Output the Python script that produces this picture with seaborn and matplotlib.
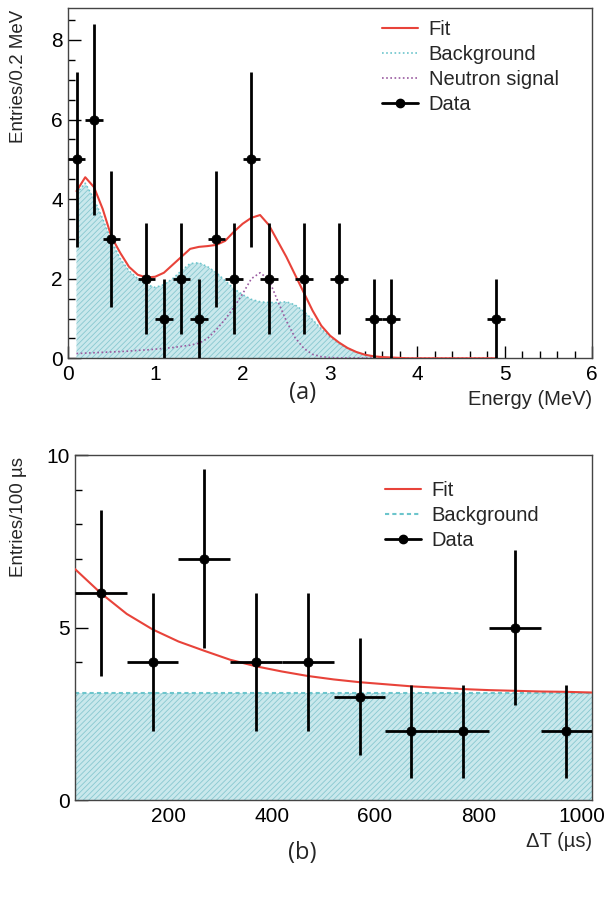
import numpy as np
import pandas as pd
import matplotlib
matplotlib.use('Agg')
import matplotlib.pyplot as plt
import matplotlib.ticker as mtick
import seaborn as sns

# --- panel (a): energy spectrum ---
e_x = [0.1, 0.3, 0.5, 0.9, 1.1, 1.3, 1.5, 1.7, 1.9, 2.1, 2.3, 2.7, 3.1, 3.5, 3.7, 4.9]
e_n = [5, 6, 3, 2, 1, 2, 1, 3, 2, 5, 2, 2, 2, 1, 1, 1]
e_lo = [2.8, 3.6, 1.3, 0.6, 0.0, 0.6, 0.0, 1.3, 0.6, 2.8, 0.6, 0.6, 0.6, 0.0, 0.0, 0.0]
e_hi = [7.2, 8.4, 4.7, 3.4, 2.0, 3.4, 2.0, 4.7, 3.4, 7.2, 3.4, 3.4, 3.4, 2.0, 2.0, 2.0]

e_grid = np.round(np.arange(0.1, 4.95, 0.1), 1)
e_bg = [4.15, 4.4, 4.0, 3.5, 2.95, 2.5, 2.2, 2.0, 1.85, 1.78,
        1.85, 2.0, 2.2, 2.38, 2.4, 2.3, 2.15, 1.95, 1.75, 1.6,
        1.48, 1.42, 1.4, 1.4, 1.42, 1.34, 1.18, 0.97, 0.74, 0.53,
        0.38, 0.25, 0.15, 0.08, 0.04, 0.02, 0.01, 0.01, 0.0, 0.0,
        0.0, 0.0, 0.0, 0.0, 0.0, 0.0, 0.0, 0.0, 0.0]
e_sig = [0.12, 0.13, 0.14, 0.15, 0.16, 0.17, 0.18, 0.2, 0.21, 0.23,
         0.25, 0.27, 0.3, 0.33, 0.38, 0.5, 0.72, 0.98, 1.28, 1.62,
         2.0, 2.15, 1.98, 1.45, 0.94, 0.52, 0.25, 0.1, 0.04, 0.02,
         0.01, 0.01, 0.01, 0.01, 0.01, 0.0, 0.0, 0.0, 0.0, 0.0,
         0.0, 0.0, 0.0, 0.0, 0.0, 0.0, 0.0, 0.0, 0.0]
e_fit = [4.2, 4.55, 4.3, 3.75, 3.05, 2.65, 2.3, 2.1, 2.03, 2.05,
         2.15, 2.35, 2.55, 2.75, 2.8, 2.82, 2.85, 2.95, 3.18, 3.38,
         3.53, 3.6, 3.35, 2.95, 2.55, 2.1, 1.65, 1.2, 0.82, 0.57,
         0.4, 0.26, 0.16, 0.09, 0.05, 0.03, 0.02, 0.01, 0.0, 0.0,
         0.0, 0.0, 0.0, 0.0, 0.0, 0.0, 0.0, 0.0, 0.0]

# --- panel (b): time difference ---
t_x = [70, 170, 270, 370, 470, 570, 670, 770, 870, 970]
t_n = [6, 4, 7, 4, 4, 3, 2, 2, 5, 2]
t_lo = [3.6, 2.0, 4.4, 2.0, 2.0, 1.3, 0.65, 0.65, 2.75, 0.65]
t_hi = [8.4, 6.0, 9.6, 6.0, 6.0, 4.7, 3.35, 3.35, 7.25, 3.35]

t_grid = np.arange(20, 1021, 50)
t_fit = [6.7, 6.0, 5.4, 4.95, 4.6, 4.33, 4.07, 3.88, 3.73, 3.6,
         3.5, 3.42, 3.36, 3.3, 3.26, 3.22, 3.19, 3.17, 3.15, 3.14, 3.12]
t_bg = 3.1

sns.set_style('ticks')
plt.rcParams['font.family'] = ['Liberation Sans', 'DejaVu Sans']
plt.rcParams['hatch.linewidth'] = 0.6
plt.rcParams['axes.linewidth'] = 1.0

red = '#e8433a'
cyan_line = '#6cc5cc'
cyan_fill = '#c9e8ec'
cyan_hatch = '#88c8d0'
purple = '#9a5aa0'

fig = plt.figure(figsize=(6.05, 8.98), dpi=100)
ax1 = fig.add_axes([0.112, 0.601, 0.867, 0.390])
ax2 = fig.add_axes([0.124, 0.109, 0.855, 0.384])


def style_axis(ax):
    for s in ax.spines.values():
        s.set_color('#444444')
        s.set_visible(True)
    ax.tick_params(which='both', direction='in', colors='black', labelsize=15,
                   top=False, right=False)
    ax.tick_params(axis='x', which='both', pad=5)
    ax.tick_params(which='major', length=9, width=1)
    ax.tick_params(which='minor', length=5, width=1)


def draw_data(ax, x, n, lo, hi, xerr):
    yerr = [np.array(n) - np.array(lo), np.array(hi) - np.array(n)]
    ax.errorbar(x, n, xerr=xerr, yerr=yerr, fmt='none', ecolor='black',
                elinewidth=2, capsize=0, zorder=5)
    sns.scatterplot(x=x, y=n, ax=ax, color='black', s=45, edgecolor='black',
                    zorder=6, legend=False)


def add_legend(ax, keys, y):
    h, l = ax.get_legend_handles_labels()
    order = [l.index(k) for k in keys]
    ax.legend([h[i] for i in order], [l[i] for i in order], loc='upper left',
              bbox_to_anchor=(0.6, y), frameon=False, fontsize=14.5,
              handlelength=1.75, handletextpad=0.55, labelspacing=0.3,
              borderaxespad=0, borderpad=0)


# panel (a)
df_e = pd.DataFrame({'E': e_grid, 'bg': e_bg, 'sig': e_sig, 'fit': e_fit})
ax1.fill_between(df_e['E'], 0, df_e['bg'], facecolor=cyan_fill, edgecolor=cyan_hatch,
                 hatch='//////', linewidth=0, zorder=1)
sns.lineplot(data=df_e, x='E', y='bg', ax=ax1, color=cyan_line, lw=1.2,
             linestyle=(0, (1, 1.5)), label='Background', zorder=2)
sns.lineplot(data=df_e, x='E', y='sig', ax=ax1, color=purple, lw=1.2,
             linestyle=(0, (1, 1.5)), label='Neutron signal', zorder=3)
sns.lineplot(data=df_e, x='E', y='fit', ax=ax1, color=red, lw=1.5,
             label='Fit', zorder=4)
draw_data(ax1, e_x, e_n, e_lo, e_hi, 0.1)
ax1.plot([], [], color='black', marker='o', ms=6, lw=2, label='Data')

ax1.set_xlim(0, 6)
ax1.set_ylim(0, 8.8)
ax1.xaxis.set_major_locator(mtick.MultipleLocator(1))
ax1.xaxis.set_minor_locator(mtick.MultipleLocator(0.2))
ax1.yaxis.set_major_locator(mtick.MultipleLocator(2))
ax1.yaxis.set_minor_locator(mtick.MultipleLocator(0.5))
style_axis(ax1)
ax1.set_xlabel('Energy (MeV)', loc='right', fontsize=14.5)
ax1.set_ylabel('Entries/0.2 MeV', loc='top', fontsize=13.5)
ax1.yaxis.set_label_coords(-0.078, 0.995)
add_legend(ax1, ['Fit', 'Background', 'Neutron signal', 'Data'], 0.965)

# panel (b)
df_t = pd.DataFrame({'T': t_grid, 'fit': t_fit})
ax2.fill_between([20, 1020], 0, t_bg, facecolor=cyan_fill, edgecolor=cyan_hatch,
                 hatch='//////', linewidth=0, zorder=1)
ax2.axhline(t_bg, color=cyan_line, lw=1.5, linestyle=(0, (2, 1.5)),
            label='Background', zorder=2)
sns.lineplot(data=df_t, x='T', y='fit', ax=ax2, color=red, lw=1.5,
             label='Fit', zorder=4)
draw_data(ax2, t_x, t_n, t_lo, t_hi, 50)
ax2.plot([], [], color='black', marker='o', ms=6, lw=2, label='Data')

ax2.set_xlim(20, 1020)
ax2.set_ylim(0, 10)
ax2.xaxis.set_major_locator(mtick.MultipleLocator(200))
ax2.xaxis.set_minor_locator(mtick.MultipleLocator(50))
ax2.yaxis.set_major_locator(mtick.MultipleLocator(5))
ax2.yaxis.set_minor_locator(mtick.MultipleLocator(1))
style_axis(ax2)
ax2.set_xlabel('ΔT (µs)', loc='right', fontsize=14.5)
ax2.set_ylabel('Entries/100 µs', loc='top', fontsize=13.5)
ax2.yaxis.set_label_coords(-0.092, 0.995)
add_legend(ax2, ['Fit', 'Background', 'Data'], 0.925)

fig.text(0.5, 1 - 393 / 898, '(a)', ha='center', va='center', fontsize=17,
         family='Open Sans')
fig.text(0.5, 1 - 853 / 898, '(b)', ha='center', va='center', fontsize=17,
         family='Open Sans')

fig.savefig('out.png', dpi=100)
